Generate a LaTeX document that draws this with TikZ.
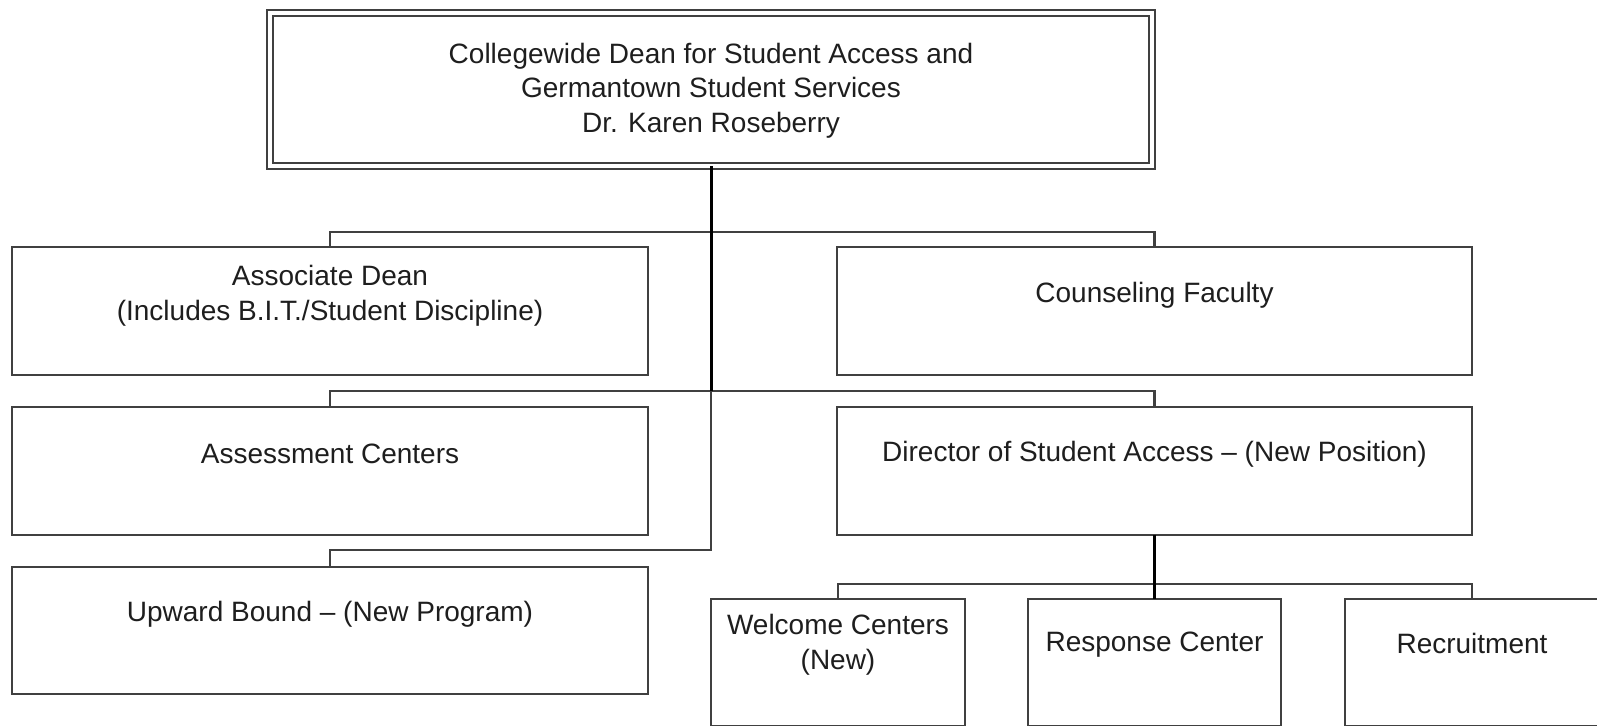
\documentclass[tikz,border=0pt]{standalone}
\usepackage{fontspec}
\setmainfont{Liberation Sans}
\definecolor{boxline}{RGB}{64,64,64}
\definecolor{txt}{RGB}{30,30,30}
\begin{document}
\begin{tikzpicture}[x=0.5pt,y=-0.5pt,
  box/.style={draw=boxline, line width=1.3pt, fill=white, inner sep=0pt, outer sep=0pt, rectangle},
  topbox/.style={draw=boxline, line width=1.1pt, double=white, double distance=1.9pt, inner sep=0pt, outer sep=0pt, rectangle},
  lbl/.style={align=center, text=txt, inner sep=0pt, font=\fontsize{14}{17.3}\selectfont},
  bus/.style={draw=boxline, line width=1.1pt},
  trunk/.style={draw=black, line width=1.5pt}
]
\useasboundingbox (0,0) rectangle (1597,725);
% boxes
\node[topbox, minimum width=441pt, minimum height=76.5pt] (top) at (711,89.5) {};
\node[box, minimum width=318pt, minimum height=64pt] (ad) at (330,311) {};
\node[box, minimum width=317.5pt, minimum height=64pt] (cf) at (1154.5,311) {};
\node[box, minimum width=318pt, minimum height=64pt] (ac) at (330,471) {};
\node[box, minimum width=317.5pt, minimum height=64pt] (dir) at (1154.5,471) {};
\node[box, minimum width=318pt, minimum height=63.5pt] (ub) at (330,630.5) {};
\node[box, minimum width=127pt, minimum height=63.5pt] (wc) at (838,662.5) {};
\node[box, minimum width=126.5pt, minimum height=63.5pt] (rc) at (1154.5,662.5) {};
\node[box, minimum width=127pt, minimum height=63.5pt] (rec) at (1472,662.5) {};
% texts
\node[lbl] (top-t) at (711,90.5) {Collegewide Dean for Student Access and\\Germantown Student Services\\Dr. Karen Roseberry};
\node[lbl] (ad-t) at (330,295.5) {Associate Dean\\(Includes B.I.T./Student Discipline)};
\node[lbl] (cf-t) at (1154.5,295) {Counseling Faculty};
\node[lbl] (ac-t) at (330,454) {Assessment Centers};
\node[lbl] (dir-t) at (1154.5,454) {Director of Student Access -- (New Position)};
\node[lbl] (ub-t) at (330,614) {Upward Bound -- (New Program)};
\node[lbl] (wc-t) at (838,644.5) {Welcome Centers\\(New)};
\node[lbl] (rc-t) at (1154.5,644.5) {Response Center};
\node[lbl] (rec-t) at (1472,643) {Recruitment};
% coordinates
\coordinate (j1) at (711,232);
\coordinate (j2) at (711,391);
\coordinate (j3) at (711,550);
\coordinate (j4) at (1154.5,584);
% connectors
\draw[bus] (ad.north) |- (j1) -| (cf.north);
\draw[bus] (ac.north) |- (j2) -| (dir.north);
\draw[bus] (j2) -- (j3) -| (ub.north);
\draw[bus] (wc.north) |- (j4) -| (rec.north);
\draw[trunk] (top.south) -- (j2);
\draw[trunk] (dir.south) -- (rc.north);
\end{tikzpicture}
\end{document}
